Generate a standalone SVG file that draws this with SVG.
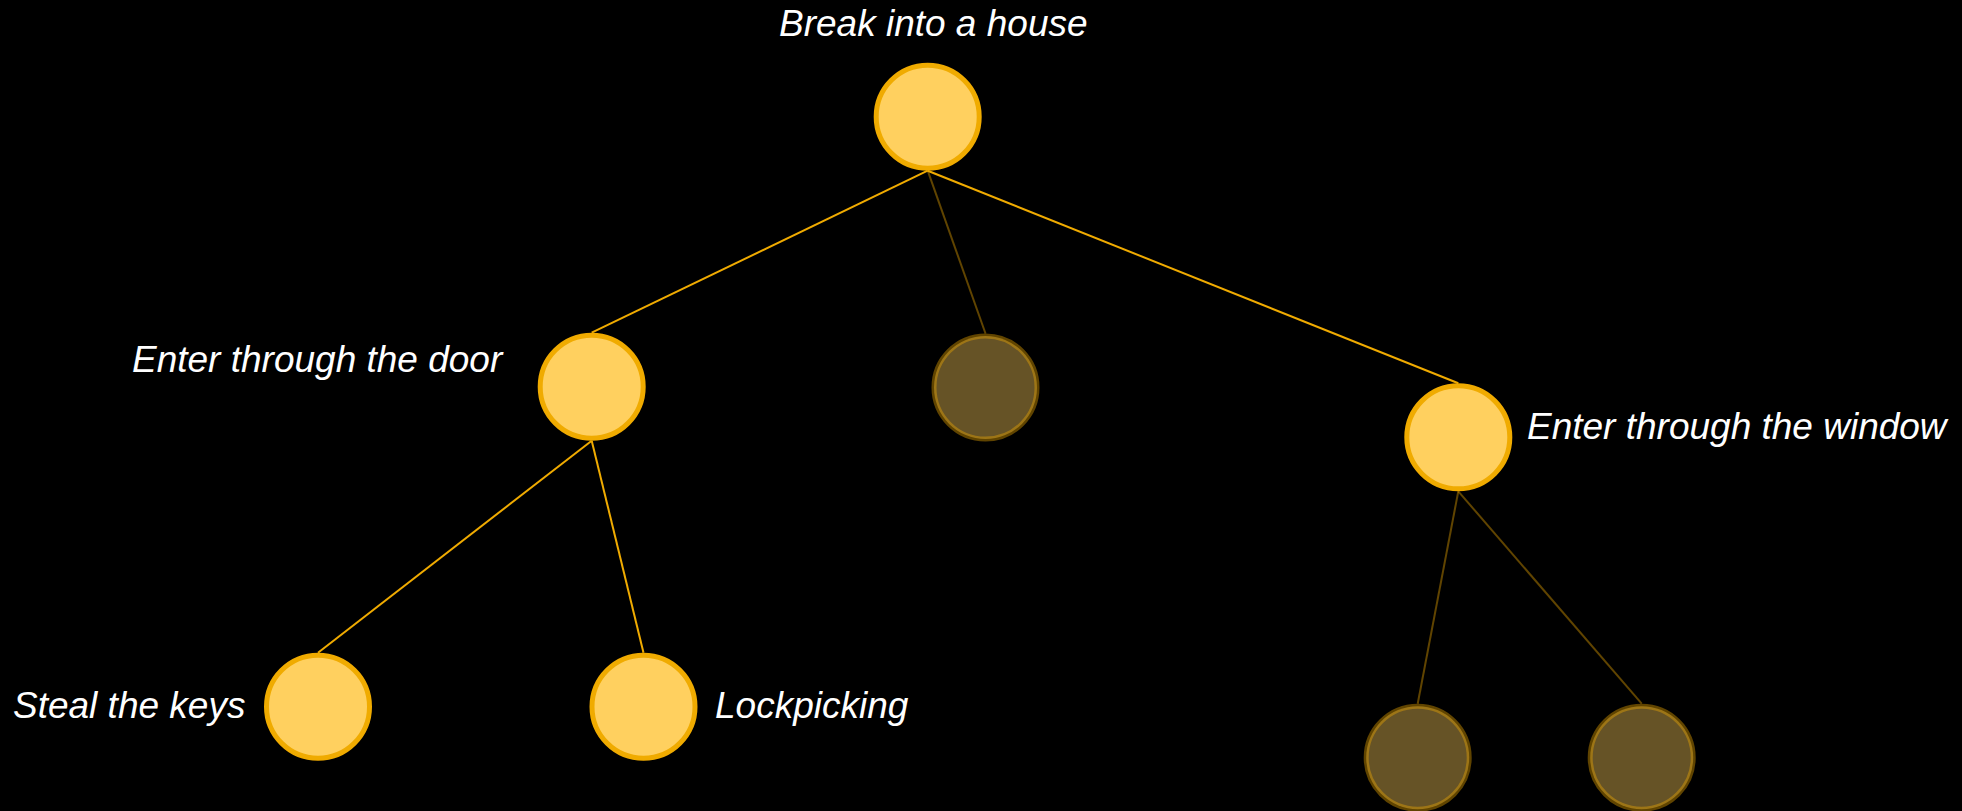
<svg xmlns="http://www.w3.org/2000/svg" width="1962" height="811" viewBox="0 0 1962 811">
  <style>
    .node { fill: #ffd05f; stroke: #f0ab00; stroke-width: 5; }
    .node.dim { fill-opacity: 0.4; stroke-opacity: 0.4; }
    .edge { stroke: #f0ab00; stroke-width: 2; fill: none; }
    .edge.dim { stroke-opacity: 0.4; }
    .label { font-family: "Liberation Sans", Arial, sans-serif; font-style: italic; font-size: 37px; fill: #ffffff; }
  </style>
  <rect width="1962" height="811" fill="#000000"/>

  <!-- connectors: parent bottom to child top -->
  <g id="connectors">
    <line class="edge" x1="927.7" y1="170.7" x2="591.7" y2="332.7"/>
    <line class="edge dim" x1="927.7" y1="170.7" x2="985.5" y2="333.5"/>
    <line class="edge" x1="927.7" y1="170.7" x2="1458.3" y2="383.3"/>
    <line class="edge" x1="591.7" y1="440.7" x2="318" y2="652.7"/>
    <line class="edge" x1="591.7" y1="440.7" x2="643.5" y2="652.7"/>
    <line class="edge dim" x1="1458.3" y1="491.3" x2="1417.7" y2="703.7"/>
    <line class="edge dim" x1="1458.3" y1="491.3" x2="1641.7" y2="703.7"/>
  </g>

  <g id="node-root">
    <circle class="node" cx="927.7" cy="116.7" r="51.5"/>
    <text class="label" x="779" y="36">Break into a house</text>
  </g>
  <g id="node-door">
    <circle class="node" cx="591.7" cy="386.7" r="51.5"/>
    <text class="label" x="132" y="372">Enter through the door</text>
  </g>
  <g id="node-unnamed-1">
    <circle class="node dim" cx="985.5" cy="387.5" r="51.5"/>
  </g>
  <g id="node-window">
    <circle class="node" cx="1458.3" cy="437.3" r="51.5"/>
    <text class="label" x="1527" y="439">Enter through the window</text>
  </g>
  <g id="node-keys">
    <circle class="node" cx="318" cy="706.7" r="51.5"/>
    <text class="label" x="13" y="718">Steal the keys</text>
  </g>
  <g id="node-lockpicking">
    <circle class="node" cx="643.5" cy="706.7" r="51.5"/>
    <text class="label" x="715" y="718">Lockpicking</text>
  </g>
  <g id="node-unnamed-2">
    <circle class="node dim" cx="1417.7" cy="757.7" r="51.5"/>
  </g>
  <g id="node-unnamed-3">
    <circle class="node dim" cx="1641.7" cy="757.7" r="51.5"/>
  </g>
</svg>
